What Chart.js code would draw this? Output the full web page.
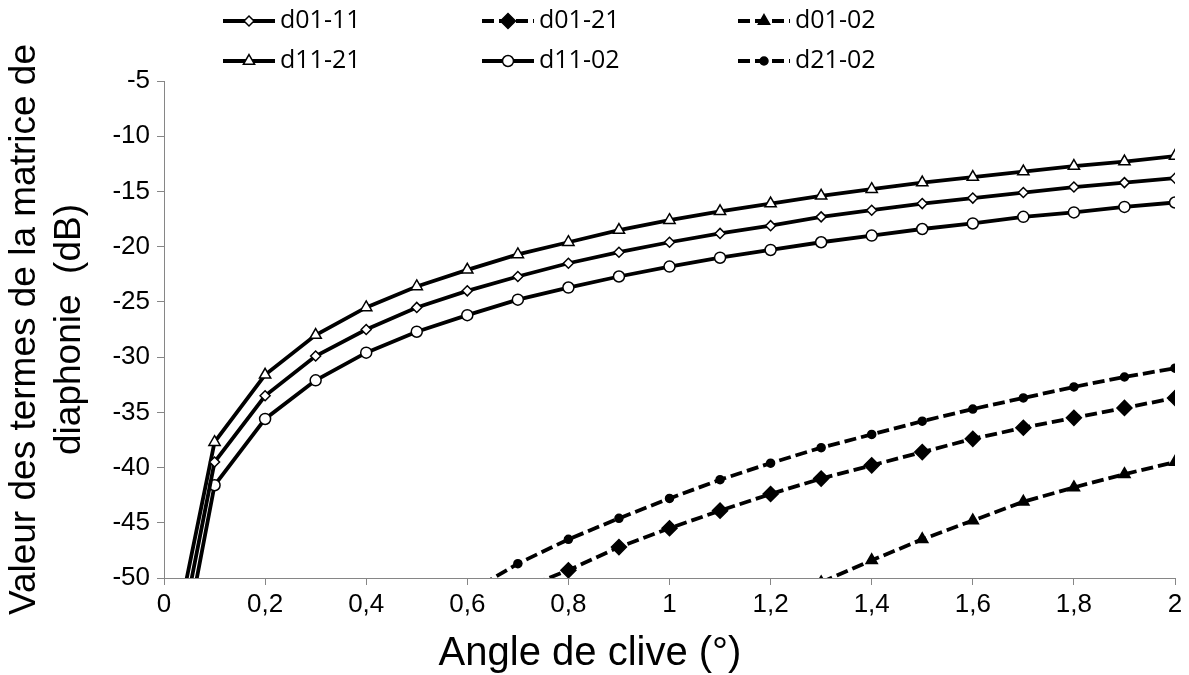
<!DOCTYPE html>
<html>
<head>
<meta charset="utf-8">
<script src="https://cdn.jsdelivr.net/npm/chart.js@4.4.1/dist/chart.umd.min.js"></script>
<style>
  body { margin: 0; background: #fff; }
  #wrap { width: 1189px; height: 675px; }
</style>
</head>
<body>
<div id="wrap"><canvas id="chart"></canvas></div>
<script>
// angle de clive (deg)
const angles = [0, 0.1, 0.2, 0.3, 0.4, 0.5, 0.6, 0.7, 0.8, 0.9, 1.0,
                1.1, 1.2, 1.3, 1.4, 1.5, 1.6, 1.7, 1.8, 1.9, 2.0];
const xTickLabels = ['0', '0,2', '0,4', '0,6', '0,8', '1', '1,2', '1,4', '1,6', '1,8', '2'];

// crosstalk terms (dB)
const d0111 = [-62.8, -39.5, -33.5, -29.9, -27.5, -25.5, -24.0, -22.7, -21.5, -20.5, -19.6,
               -18.8, -18.1, -17.3, -16.7, -16.1, -15.6, -15.1, -14.6, -14.2, -13.8];
const d0121 = [null, null, null, null, null, null, null, -51.1, -49.3, -47.2, -45.5,
               -43.9, -42.4, -41.0, -39.8, -38.6, -37.4, -36.4, -35.5, -34.6, -33.7];
const d0102 = [null, null, null, null, null, null, null, null, null, null, null,
               null, null, -50.4, -48.4, -46.5, -44.8, -43.1, -41.8, -40.6, -39.5];
const d1121 = [-60.1, -37.7, -31.6, -28.0, -25.5, -23.6, -22.1, -20.7, -19.6, -18.5, -17.6,
               -16.8, -16.1, -15.4, -14.8, -14.2, -13.7, -13.2, -12.7, -12.3, -11.8];
const d1102 = [-65.6, -41.6, -35.6, -32.1, -29.6, -27.7, -26.2, -24.8, -23.7, -22.7, -21.8,
               -21.0, -20.3, -19.6, -19.0, -18.4, -17.9, -17.3, -16.9, -16.4, -16.0];
const d2102 = [null, null, null, null, null, null, -51.4, -48.7, -46.5, -44.6, -42.8,
               -41.1, -39.6, -38.2, -37.0, -35.8, -34.7, -33.7, -32.7, -31.8, -31.0];

const xTitle = 'Angle de clive (°)';
const yTitle = ['Valeur des termes de la matrice de', 'diaphonie  (dB)'];

const dash = [12, 5];
const axisFont = '"Liberation Sans", Arial, sans-serif';

function pts(values) {
    return angles.map((a, i) => ({ x: a, y: values[i] }));
}

function series(label, values, style, radius, filled, dashed) {
    return {
        label: label,
        data: pts(values),
        borderColor: '#000',
        backgroundColor: '#000',
        borderWidth: 3.8,
        borderDash: dashed ? dash : [],
        pointStyle: style,
        pointRadius: radius,
        pointBorderWidth: 1.5,
        pointBorderColor: '#000',
        pointBackgroundColor: filled ? '#000' : '#fff',
        tension: 0,
        spanGaps: false
    };
}

// legend drawn by hand: line + marker + text, 3 columns x 2 rows
const legendPlugin = {
    id: 'excelLegend',
    afterDraw(chart) {
        const ctx = chart.ctx;
        const cols = [223, 482, 738];
        const rows = [21, 61];
        const len = 52;
        chart.data.datasets.forEach((ds, i) => {
            const x = cols[i % 3];
            const y = rows[Math.floor(i / 3)];
            ctx.save();
            ctx.strokeStyle = '#000';
            ctx.lineWidth = 3.8;
            ctx.setLineDash(ds.borderDash);
            ctx.beginPath();
            ctx.moveTo(x, y);
            ctx.lineTo(x + len, y);
            ctx.stroke();
            ctx.setLineDash([]);
            ctx.fillStyle = ds.pointBackgroundColor;
            ctx.strokeStyle = '#000';
            ctx.lineWidth = ds.pointBorderWidth;
            Chart.helpers.drawPoint(ctx, { pointStyle: ds.pointStyle, radius: ds.pointRadius, borderWidth: ds.pointBorderWidth, rotation: 0 }, x + len / 2, y);
            ctx.fillStyle = '#000';
            ctx.font = '25px "Open Sans", sans-serif';
            ctx.textBaseline = 'middle';
            ctx.fillText(ds.label, x + len + 5, y);
            ctx.restore();
        });

        // x axis title sits left of centre, as in the original
        ctx.save();
        ctx.fillStyle = '#000';
        ctx.font = '40px ' + axisFont;
        ctx.textAlign = 'center';
        ctx.textBaseline = 'middle';
        ctx.fillText(xTitle, 590, 654);
        ctx.restore();
    }
};

new Chart(document.getElementById('chart'), {
    type: 'line',
    data: {
        datasets: [
            series('d01-11', d0111, 'rectRot', 5, false, false),
            series('d01-21', d0121, 'rectRot', 7.5, true, true),
            series('d01-02', d0102, 'triangle', 6.5, true, true),
            series('d11-21', d1121, 'triangle', 6.5, false, false),
            series('d11-02', d1102, 'circle', 5.5, false, false),
            series('d21-02', d2102, 'circle', 4, true, true)
        ]
    },
    options: {
        responsive: true,
        maintainAspectRatio: false,
        animation: false,
        layout: { padding: { top: 81, right: 14, left: 0, bottom: 0 } },
        plugins: {
            legend: { display: false },
            tooltip: { enabled: false }
        },
        scales: {
            x: {
                type: 'linear',
                min: 0,
                max: 2,
                ticks: {
                    stepSize: 0.2,
                    color: '#000',
                    padding: 4,
                    font: { family: axisFont, size: 26 },
                    callback: (v, i) => xTickLabels[i]
                },
                grid: { drawOnChartArea: false, drawTicks: true, tickLength: 7, color: '#868686' },
                border: { color: '#868686', width: 1 },
                afterFit(scale) { scale.height = 97; }
            },
            y: {
                min: -50,
                max: -5,
                ticks: {
                    stepSize: 5,
                    color: '#000',
                    padding: 7,
                    font: { family: axisFont, size: 26 }
                },
                grid: { drawOnChartArea: false, drawTicks: true, tickLength: 7, color: '#868686' },
                border: { color: '#868686', width: 1 },
                title: {
                    display: true,
                    text: yTitle,
                    color: '#000',
                    font: { family: axisFont, size: 37, lineHeight: 1.216 },
                    padding: { top: 2, bottom: 0 }
                },
                afterFit(scale) { scale.width = 164; }
            }
        }
    },
    plugins: [legendPlugin]
});
</script>
</body>
</html>
